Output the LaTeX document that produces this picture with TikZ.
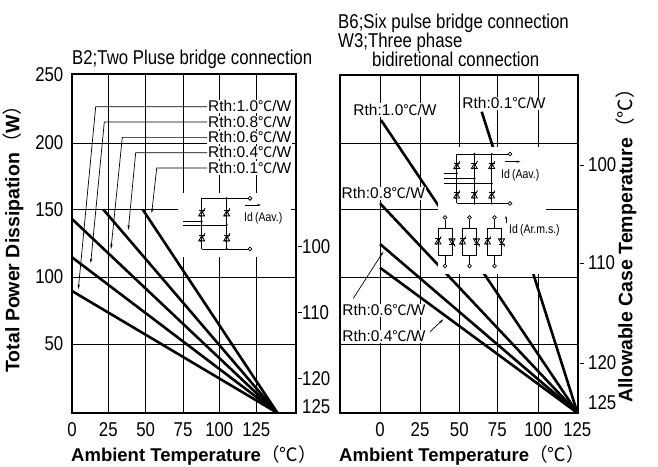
\documentclass[tikz,border=0pt]{standalone}
\usepackage{fontspec}
\setmainfont{Liberation Sans}
\newfontfamily\condf[FakeStretch=0.84]{Liberation Sans}
\newfontfamily\cjkf{Noto Sans CJK JP}
\newfontfamily\cjkg[Scale=0.92]{Noto Sans CJK JP}
\usetikzlibrary{arrows.meta}
\newcommand{\dc}{{\mdseries\cjkf ℃}}
\newcommand{\dcs}{{\mdseries\cjkg ℃}}
\newcommand{\lpar}{{\mdseries\cjkf （}}
\newcommand{\rpar}{{\mdseries\cjkf ）}}
\tikzset{
  gridln/.style={line width=0.9bp},
  frm/.style={line width=1.4bp},
  crv/.style={line width=2.6bp},
  leadarr/.style={line width=0.7bp,-{Stealth[length=5bp,width=2.4bp]}},
  ckt/.style={line width=0.8bp},
  ticklbl/.style={font=\condf\fontsize{20bp}{22bp}\selectfont, inner sep=0pt},
  rth/.style={font=\fontsize{15.5bp}{17bp}\selectfont, fill=white, inner xsep=1bp, inner ysep=0.8bp, text height=11bp, text depth=0.5bp},
  ttl/.style={font=\condf\fontsize{20bp}{22bp}\selectfont, inner sep=0pt, anchor=base west},
  axt/.style={font=\bfseries\fontsize{18.5bp}{20bp}\selectfont, inner sep=0pt},
  axtv/.style={font=\bfseries\fontsize{19.5bp}{21bp}\selectfont, inner sep=0pt, rotate=90},
  smalltxt/.style={font=\condf\fontsize{12.5bp}{14bp}\selectfont, inner sep=0.5bp},
  term/.style={circle, draw, line width=0.8bp, fill=white, minimum size=3.8bp, inner sep=0pt},
  jdot/.style={circle, fill, minimum size=2.4bp, inner sep=0pt},
  thyup/.pic={\draw[ckt] (-3,2.6) -- (3,2.6) -- (0,-2.6) -- cycle;
              \draw[ckt] (-3,-2.6) -- (3,-2.6);
              \draw[ckt] (-1.5,3.2) -- (3.2,-5);},
  thydn/.pic={\draw[ckt] (-3,-2.6) -- (3,-2.6) -- (0,2.6) -- cycle;
              \draw[ckt] (-3,2.6) -- (3,2.6);
              \draw[ckt] (-1.5,-3.2) -- (3.2,5);},
}
\begin{document}
\begin{tikzpicture}[x=1bp,y=-1bp]
\useasboundingbox (0,0) rectangle (658,467);

% ================= LEFT PLOT =================
\foreach \x in {108.3,145.7,183,219.3,256.3} \draw[gridln] (\x,74) -- (\x,413);
\foreach \y in {143,209,277,344} \draw[gridln] (72,\y) -- (296,\y);
\coordinate (E1) at (277.5,413);
\coordinate (s10) at (72,291);
\coordinate (s08) at (72,257.3);
\coordinate (s06) at (72,219);
\coordinate (s04) at (103.3,209.5);
\coordinate (s01) at (142.7,209.5);
\foreach \s in {s10,s08,s06,s04,s01} \draw[crv] (\s) -- (E1);
\fill[white] (178,193) rectangle (291,257);

% labels with leaders
\node[rth,anchor=west] (L10) at (207,106.7) {Rth:1.0\dcs/W};
\node[rth,anchor=west] (L08) at (207,122.1) {Rth:0.8\dcs/W};
\node[rth,anchor=west] (L06) at (207,137.4) {Rth:0.6\dcs/W};
\node[rth,anchor=west] (L04) at (207,152.7) {Rth:0.4\dcs/W};
\node[rth,anchor=west] (L01) at (207,168) {Rth:0.1\dcs/W};
\coordinate (t10) at (78.3,289.3);
\coordinate (t08) at (90.7,263.3);
\coordinate (t06) at (111,249);
\coordinate (t04) at (128.3,230);
\coordinate (t01) at (151.7,213.3);
\draw[leadarr] (L10.west) -- (95.7,106.7) -- (t10);
\draw[leadarr] (L08.west) -- (104.3,122.1) -- (t08);
\draw[leadarr] (L06.west) -- (122.3,137.4) -- (t06);
\draw[leadarr] (L04.west) -- (135.7,152.7) -- (t04);
\draw[leadarr] (L01.west) -- (156.7,168) -- (t01);

% B2 circuit
\node[term] (bT) at (250,198.3) {};
\node[term] (bB) at (250,249) {};
\draw[ckt] (201.7,198.3) -- (bT);
\draw[ckt] (201.7,249) -- (bB);
\draw[ckt] (201.7,198.3) -- (201.7,249);
\draw[ckt] (226.7,198.3) -- (226.7,249);
\draw[ckt] (183.3,221.7) -- (201.7,221.7);
\draw[ckt] (183.3,225) -- (226.7,225);
\foreach \x in {201.7,226.7} {\pic at (\x,213.3) {thyup}; \pic at (\x,238.3) {thyup};}
\node[jdot] (bd1) at (226.7,198.3) {};
\node[jdot] (bd2) at (226.7,249) {};
\node[jdot] (bd3) at (201.7,221.7) {};
\node[jdot] (bd4) at (226.7,225) {};
\coordinate (ba1) at (245,205);
\coordinate (ba2) at (261,205);
\draw[line width=0.7bp,-{Stealth[length=4bp,width=2.2bp]}] (ba1) -- (ba2);
\node[smalltxt,anchor=west] (bId) at (243.5,218.3) {Id\,(Aav.)};

% frame and axis ticks
\draw[frm] (72,74) rectangle (296,413);
\foreach \y in {246.5,312.3,378.3} \draw[gridln] (297.5,\y) -- (301.5,\y);
\node[ticklbl,anchor=west] (lr100) at (302,246.5) {100};
\node[ticklbl,anchor=west] (lr110) at (302,312.3) {110};
\node[ticklbl,anchor=west] (lr120) at (302,378.3) {120};
\node[ticklbl,anchor=west] (lr125) at (302,406.7) {125};
\node[ticklbl,anchor=east] (ly250) at (63.5,74.5) {250};
\node[ticklbl,anchor=east] (ly200) at (63.5,143) {200};
\node[ticklbl,anchor=east] (ly150) at (63.5,209.5) {150};
\node[ticklbl,anchor=east] (ly100) at (63.5,277) {100};
\node[ticklbl,anchor=east] (ly50) at (63.5,344) {50};
\node[ticklbl] (lx0) at (72,430) {0};
\node[ticklbl] (lx25) at (108.3,430) {25};
\node[ticklbl] (lx50) at (145.7,430) {50};
\node[ticklbl] (lx75) at (183,430) {75};
\node[ticklbl] (lx100) at (219.3,430) {100};
\node[ticklbl] (lx125) at (256.3,430) {125};
\node[axt,anchor=base west] (lxt) at (71,461) {Ambient Temperature\lpar\dc\rpar};
\node[axtv] (lyt) at (13,234) {Total Power Dissipation\lpar W\rpar};
\node[ttl] (lttl) at (72,65) {B2;Two Pluse bridge connection};

% ================= RIGHT PLOT =================
\foreach \x in {380,420,459.3,497.3,538.3} \draw[gridln] (\x,75) -- (\x,413);
\foreach \y in {143,209,277,344} \draw[gridln] (340,\y) -- (578,\y);
\coordinate (E2) at (577.5,413);
\coordinate (r10) at (381,120);
\coordinate (r08) at (380,203.3);
\coordinate (r06) at (380,244);
\coordinate (r04) at (380,267.7);
\coordinate (r01) at (481.7,111.7);
\foreach \s in {r10,r08,r06,r04,r01} \draw[crv] (\s) -- (E2);
\fill[white] (438,147) rectangle (546,274);

\node[rth] (R10) at (395,110) {Rth:1.0\dcs/W};
\node[rth] (R01) at (504,103.3) {Rth:0.1\dcs/W};
\node[rth] (R08) at (383.3,193.3) {Rth:0.8\dcs/W};
\node[rth] (R06) at (384,310.7) {Rth:0.6\dcs/W};
\node[rth] (R04) at (384,336.7) {Rth:0.4\dcs/W};
\coordinate (u06) at (383.3,251.7);
\coordinate (u04) at (443.3,319.3);
\coordinate (v06) at (353.3,298.3);
\coordinate (v04) at (430,331.7);
\draw[leadarr] (v06) -- (u06);
\draw[leadarr] (v04) -- (u04);

% B6 circuit
\node[term] (sT) at (510,154) {};
\node[term] (sB) at (510,203.5) {};
\draw[ckt] (456.7,154) -- (sT);
\draw[ckt] (456.7,203.5) -- (sB);
\foreach \x in {456.7,474.3,491.7} {
  \draw[ckt] (\x,154) -- (\x,203.5);
  \pic at (\x,166) {thyup};
  \pic at (\x,195.5) {thyup};
}
\draw[ckt] (443.5,173.5) -- (456.7,173.5);
\draw[ckt] (443.5,178.5) -- (474.3,178.5);
\draw[ckt] (443.5,183.5) -- (491.7,183.5);
\node[jdot] (sd1) at (474.3,154) {};
\node[jdot] (sd2) at (491.7,154) {};
\node[jdot] (sd3) at (474.3,203.5) {};
\node[jdot] (sd4) at (491.7,203.5) {};
\node[jdot] (sd5) at (456.7,173.5) {};
\node[jdot] (sd6) at (474.3,178.5) {};
\node[jdot] (sd7) at (491.7,183.5) {};
\coordinate (sa1) at (504.5,161.7);
\coordinate (sa2) at (520.5,161.7);
\draw[line width=0.7bp,-{Stealth[length=4bp,width=2.2bp]}] (sa1) -- (sa2);
\node[smalltxt,anchor=west] (sId) at (500.5,175) {Id\,(Aav.)};

% W3 circuit
\foreach \cx/\nm in {445/wa,469.5/wb,494.5/wc} {
  \node[term] (\nm T) at (\cx,217.5) {};
  \node[term] (\nm B) at (\cx,266) {};
  \draw[ckt] (\nm T) -- (\cx,228);
  \draw[ckt] (\nm B) -- (\cx,255);
  \draw[ckt] (\cx-7,228) rectangle (\cx+7,255);
  \pic at (\cx-7,241.5) {thyup};
  \pic at (\cx+7,241.5) {thydn};
}
\coordinate (wa1) at (506,223.5);
\coordinate (wa2) at (506,215.5);
\draw[line width=0.7bp,-{Stealth[length=3.5bp,width=2bp]}] (wa1) -- (wa2);
\node[smalltxt,anchor=west,fill=white] (wId) at (508.5,230) {Id\,(Ar.m.s.)};

% frame and ticks
\draw[frm] (340,75) rectangle (578,413);
\foreach \y in {165,263,363} \draw[gridln] (580,\y) -- (584,\y);
\node[ticklbl,anchor=west] (rr100) at (588,165) {100};
\node[ticklbl,anchor=west] (rr110) at (588,263) {110};
\node[ticklbl,anchor=west] (rr120) at (588,363) {120};
\node[ticklbl,anchor=west] (rr125) at (588,403) {125};
\node[ticklbl] (rx0) at (380,430) {0};
\node[ticklbl] (rx25) at (420,430) {25};
\node[ticklbl] (rx50) at (459.3,430) {50};
\node[ticklbl] (rx75) at (497.3,430) {75};
\node[ticklbl] (rx100) at (538.3,430) {100};
\node[ticklbl] (rx125) at (577.3,430) {125};
\node[axt,anchor=base west] (rxt) at (339,461) {Ambient Temperature\lpar\dc\rpar};
\node[axtv] (ryt) at (626,241) {Allowable Case Temperature\lpar\dc\rpar};
\node[ttl] (rt1) at (338,28.3) {B6;Six pulse bridge connection};
\node[ttl] (rt2) at (338,48) {W3;Three phase};
\node[ttl] (rt3) at (372,67) {bidiretional connection};
\end{tikzpicture}
\end{document}
